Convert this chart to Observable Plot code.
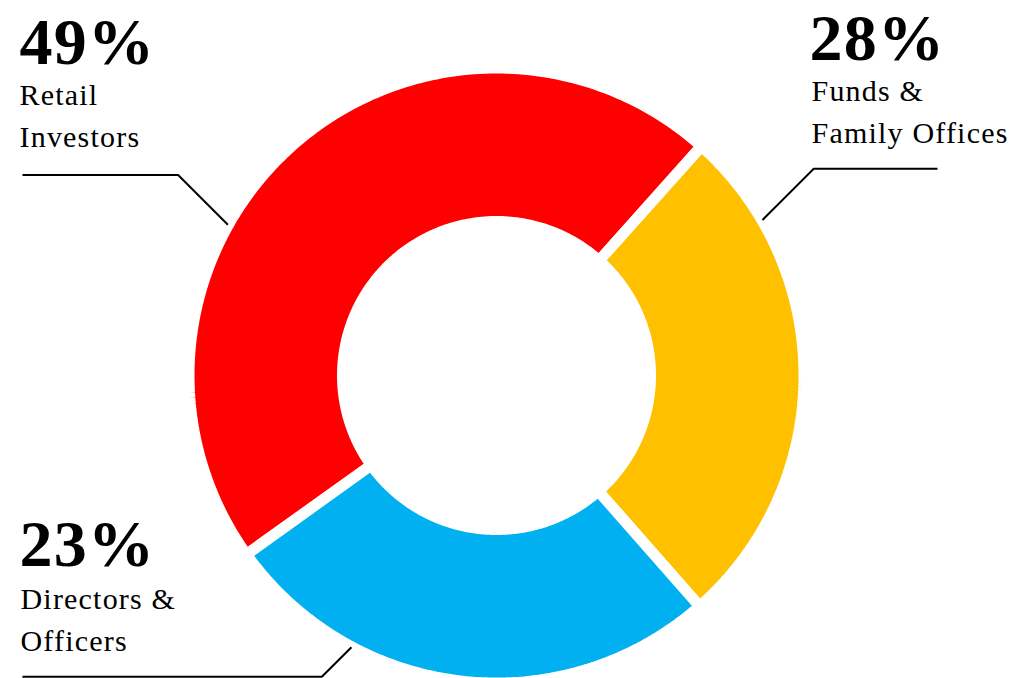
<!DOCTYPE html>
<html>
<head>
<meta charset="utf-8">
<script src="https://cdn.jsdelivr.net/npm/d3@7"></script>
<script src="https://cdn.jsdelivr.net/npm/@observablehq/plot@0.6"></script>
<style>
  html, body { margin: 0; padding: 0; background: #fff; }
  #chart svg { display: block; }
</style>
</head>
<body>
<div id="chart"></div>
<script>
// ---- data ----
const categories    = ["Retail Investors", "Funds & Family Offices", "Directors & Officers"];
const labelLines    = ["Retail\nInvestors", "Funds &\nFamily Offices", "Directors &\nOfficers"];
const percentLabels = ["49%", "28%", "23%"];
const sliceShares   = [46.5, 26.9, 26.6];          // arc sizes as drawn in the picture
const colors        = ["#FF0000", "#FFC000", "#00B0F0"];
const leaderAngles  = [299.3, 59.7, 208.1];         // degrees clockwise from north
const leaderLineY   = [174.5, 168.3, 676.3];
const leaderEndX    = [22, 937, 22];
const percentPos    = [[19, 63], [809, 59], [19, 565]];
const labelPos      = [[19, 146], [811, 142.5], [20, 650]];

// ---- layout ----
const W = 1034, H = 678;
const cx = 496, cy = 375, rOuter = 302, rInner = 159.5, gap = 11;
const startDeg = -125.6;
const rad = Math.PI / 180;

const rows = categories.map((c, i) => ({key: c, share: sliceShares[i]}));
const arcs = d3.pie().sort(null).value(d => d.share)
  .startAngle(startDeg * rad).endAngle(startDeg * rad + 2 * Math.PI)(rows);

const ro = rOuter + gap / 2, ri = rInner - gap / 2;
const pt = (r, a) => [cx + r * Math.sin(a), cy - r * Math.cos(a)];
const slicePts = [];
arcs.forEach(a => {
  const n = 160, pts = [];
  for (let k = 0; k <= n; k++) pts.push(pt(ro, a.startAngle + (a.endAngle - a.startAngle) * k / n));
  for (let k = n; k >= 0; k--) pts.push(pt(ri, a.startAngle + (a.endAngle - a.startAngle) * k / n));
  pts.push(pts[0]);
  pts.forEach(([x, y]) => slicePts.push({key: a.data.key, x, y}));
});

const leaderPts = [];
categories.forEach((c, i) => {
  const [tx, ty] = pt(308, leaderAngles[i] * rad);
  const dy = leaderLineY[i] - ty;
  const elbowX = tx + (leaderEndX[i] > tx ? Math.abs(dy) : -Math.abs(dy));
  leaderPts.push({key: c, x: tx, y: ty});
  leaderPts.push({key: c, x: elbowX, y: leaderLineY[i]});
  leaderPts.push({key: c, x: leaderEndX[i], y: leaderLineY[i]});
});

const pctRows = categories.map((c, i) => ({key: c, text: percentLabels[i], x: percentPos[i][0], y: percentPos[i][1]}));
const lblRows = categories.map((c, i) => ({key: c, text: labelLines[i], x: labelPos[i][0], y: labelPos[i][1]}));

const chart = Plot.plot({
  width: W, height: H,
  margin: 0,
  x: {domain: [0, W], range: [0, W], axis: null},
  y: {domain: [0, H], range: [0, H], axis: null},
  color: {domain: categories, range: colors},
  style: {background: "#fff", fontFamily: "'Liberation Serif', serif", letterSpacing: "1.2px"},
  marks: [
    Plot.line(slicePts, {x: "x", y: "y", z: "key", fill: "key", stroke: "#fff",
      strokeWidth: gap, strokeLinejoin: "miter", curve: "linear"}),
    Plot.line(leaderPts, {x: "x", y: "y", z: "key", stroke: "#000", strokeWidth: 2,
      strokeLinejoin: "miter", strokeLinecap: "butt"}),
    Plot.text(pctRows, {x: "x", y: "y", text: "text", textAnchor: "start", lineAnchor: "bottom",
      fontSize: 66, fontWeight: "bold", fill: "#000", fontFamily: "'Liberation Serif', serif"}),
    Plot.text(lblRows, {x: "x", y: "y", text: "text", textAnchor: "start", lineAnchor: "bottom",
      fontSize: 30, lineHeight: 1.4, fill: "#000", fontFamily: "'Liberation Serif', serif"})
  ]
});
document.getElementById("chart").append(chart);
</script>
</body>
</html>
